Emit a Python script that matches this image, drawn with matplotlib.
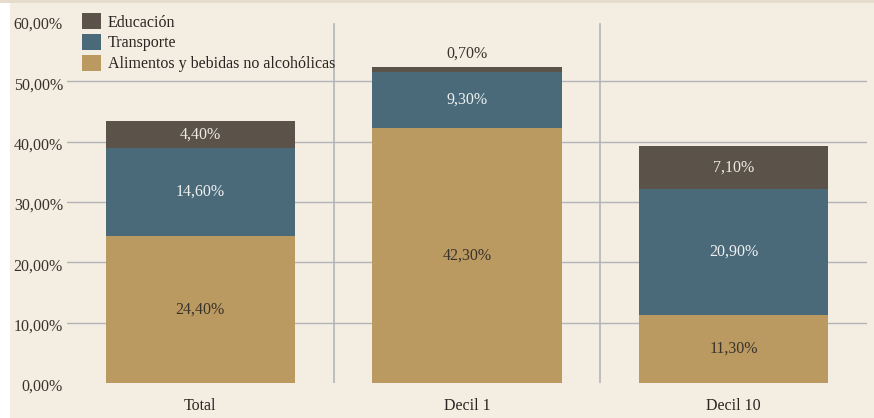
import matplotlib.pyplot as plt
import matplotlib.patches as mpatches
import matplotlib.transforms as mtransforms
import numpy as np

categories = ['Total', 'Decil 1', 'Decil 10']
alimentos = [24.4, 42.3, 11.3]
transporte = [14.6, 9.3, 20.9]
educacion = [4.4, 0.7, 7.1]
series_names = ['Alimentos y bebidas no alcohólicas', 'Transporte', 'Educación']
yticks = [0, 10, 20, 30, 40, 50, 60]

bg = '#f3ede2'
colors = ['#bb9a61', '#4a6a7a', '#5b5349']
label_colors = ['#3a332c', '#eef0f0', '#eeeae4']

plt.rcParams['font.family'] = ['Liberation Serif', 'DejaVu Serif']

def fmt(v):
    return ('%.2f' % v).replace('.', ',') + '%'

fig = plt.figure(figsize=(8.74, 4.18), dpi=100, facecolor=bg)
fig.patches.append(mpatches.Rectangle((0, 0), 10 / 874, 1, transform=fig.transFigure,
                                      facecolor='white', edgecolor='none', zorder=-1))
fig.patches.append(mpatches.Rectangle((0, 1 - 3 / 418), 1, 3 / 418, transform=fig.transFigure,
                                      facecolor='#e6dccb', edgecolor='none', zorder=-1))
ax = fig.add_axes([67 / 874, 1 - 383 / 418, 800 / 874, 362 / 418])
ax.set_facecolor(bg)

x = np.arange(len(categories))
width = 0.71
bottom = np.zeros(len(categories))
for vals, name, c, lc in zip([alimentos, transporte, educacion], series_names, colors, label_colors):
    vals = np.array(vals)
    ax.bar(x, vals, width, bottom=bottom, color=c, label=name, zorder=3)
    for i, v in enumerate(vals):
        if v < 2:
            ax.text(x[i], bottom[i] + v + 2.3, fmt(v), ha='center', va='center',
                    fontsize=11.5, color='#3a332c', zorder=4)
        else:
            ax.text(x[i], bottom[i] + v / 2, fmt(v), ha='center', va='center',
                    fontsize=11.5, color=lc, zorder=4)
    bottom = bottom + vals

ax.set_xlim(-0.5, 2.5)
ax.set_ylim(0, 60)
ax.set_yticks(yticks)
ax.set_yticklabels([])
# y labels sit a little below their gridlines, as in the original
shift = mtransforms.ScaledTranslation(-4 / 100, -4 / 100, fig.dpi_scale_trans)
for t in yticks:
    ax.text(0, t, fmt(t), transform=ax.get_yaxis_transform() + shift,
            ha='right', va='center', fontsize=11.5, color='#3a332c')
ax.set_xticks(x)
ax.set_xticklabels(categories, fontsize=11.5, color='#2a2520')
ax.tick_params(length=0, pad=4)
ax.tick_params(axis='x', pad=11)
for sp in ax.spines.values():
    sp.set_visible(False)
for t in yticks[1:-1]:
    ax.axhline(t, color='#b4b4b8', lw=1.0, zorder=1)
for s in [0.5, 1.5]:
    ax.axvline(s, ymin=0, ymax=59.5 / 60, color='#b4b4b8', lw=1.2, zorder=1)

h, l = ax.get_legend_handles_labels()
leg = ax.legend(h[::-1], l[::-1], loc='upper left', bbox_to_anchor=(0.019, 1.022),
                frameon=False, fontsize=11.5, handlelength=1.2, handleheight=1.2,
                handletextpad=0.4, labelspacing=0.2, borderaxespad=0, borderpad=0)
for t in leg.get_texts():
    t.set_color('#2a2520')

fig.savefig('out.png', dpi=100, facecolor=bg)
